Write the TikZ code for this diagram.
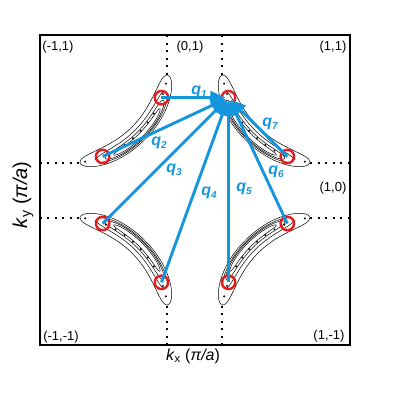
\documentclass[tikz,border=0pt]{standalone}
\usepackage{fontspec}
\setmainfont{Liberation Sans}
\usetikzlibrary{arrows.meta}
\definecolor{qblue}{RGB}{20,150,220}
\definecolor{cred}{RGB}{228,30,30}
% banana contour: #1 radius, #2 start angle, #3 end angle, #4 half span, #5 half width
\newcommand\bananacurve[5]{%
  \draw[line width=0.5pt] plot[domain=#2:#3, samples=70, smooth]
    ({-129.5+(#1+#5*sqrt(max(0,1-((\x-45)/#4)*((\x-45)/#4)*((\x-45)/#4)*((\x-45)/#4))))*cos(\x)},
     {-129.5+(#1+#5*sqrt(max(0,1-((\x-45)/#4)*((\x-45)/#4)*((\x-45)/#4)*((\x-45)/#4))))*sin(\x)})
    -- plot[domain=#3:#2, samples=70, smooth]
    ({-129.5+(#1-#5*sqrt(max(0,1-((\x-45)/#4)*((\x-45)/#4)*((\x-45)/#4)*((\x-45)/#4))))*cos(\x)},
     {-129.5+(#1-#5*sqrt(max(0,1-((\x-45)/#4)*((\x-45)/#4)*((\x-45)/#4)*((\x-45)/#4))))*sin(\x)}) -- cycle;}
\newcommand\bananaset{%
  \bananacurve{103}{8}{82}{37}{9}
  \bananacurve{104.5}{17}{73}{28}{6}
  \bananacurve{105.5}{22}{68}{23}{4}
  \bananacurve{106}{27}{63}{18}{2.2}
  \draw[bzline] (-155,-27.5) -- (-115.2,-27.5);
  \draw[bzline] (-27.5,-155) -- (-27.5,-115.2);
  \foreach \a in {13,19,...,79}
    \fill ({-129.5+103*cos(\a)},{-129.5+103*sin(\a)}) circle (1.1);
}
\newcommand\qlab[1]{\textbf{\textit{q}}\raisebox{-0.35ex}{\fontsize{10}{10}\selectfont\bfseries\itshape #1}}
\begin{document}
\begin{tikzpicture}[x=1pt,y=1pt,
  bzline/.style={line width=2pt, dash pattern=on 2pt off 5.5pt},
  pocket/.style={circle, draw=cred, line width=2.4pt, minimum size=13.5pt, inner sep=0pt},
  qarrow/.style={qblue, line width=2.9pt, -{Triangle[length=15pt,width=13pt]}, shorten >=3pt},
  qtext/.style={text=qblue, font=\fontsize{16}{16}\selectfont},
  corner/.style={font=\fontsize{13}{13}\selectfont}]
\useasboundingbox (-195,-210) rectangle (205,190);
% bananas in four quadrants
\begin{scope}\bananaset\end{scope}
\begin{scope}[yscale=-1]\bananaset\end{scope}
\begin{scope}[xscale=-1]\bananaset\end{scope}
\begin{scope}[xscale=-1,yscale=-1]\bananaset\end{scope}
% frame
\draw[line width=2pt] (-155,-155) rectangle (155,155);
% pockets (red circles)
\node[pocket] (tl1) at (-33.5,92.3) {};
\node[pocket] (tl2) at (-92.3,33.5) {};
\node[pocket] (bl1) at (-92.3,-33.5) {};
\node[pocket] (bl2) at (-33.5,-92.3) {};
\node[pocket] (br1) at (33.5,-92.3) {};
\node[pocket] (br2) at (92.3,-33.5) {};
\node[pocket] (tr2) at (92.3,33.5) {};
\node[pocket] (tr1) at (33.5,92.3) {};
% scattering vectors
\draw[qarrow] (tl1.center) -- (tr1.center);
\draw[qarrow] (tl2.center) -- (tr1.center);
\draw[qarrow] (bl1.center) -- (tr1.center);
\draw[qarrow] (bl2.center) -- (tr1.center);
\draw[qarrow] (br1.center) -- (tr1.center);
\draw[qarrow] (br2.center) -- (tr1.center);
\draw[qarrow] (tr2.center) -- (tr1.center);
% labels
\node[qtext] (l1) at (4,98) {\qlab{1}};
\node[qtext] (l2) at (-36,47) {\qlab{2}};
\node[qtext] (l3) at (-21,20) {\qlab{3}};
\node[qtext] (l4) at (14,-3) {\qlab{4}};
\node[qtext] (l5) at (49,1) {\qlab{5}};
\node[qtext] (l6) at (81,18) {\qlab{6}};
\node[qtext] (l7) at (75,66) {\qlab{7}};
% corner labels
\node[corner] (c1) at (-137,143) {(-1,1)};
\node[corner] (c2) at (-5,143) {(0,1)};
\node[corner] (c3) at (138,143) {(1,1)};
\node[corner] (c4) at (138,2) {(1,0)};
\node[corner] (c5) at (-134,-147) {(-1,-1)};
\node[corner] (c6) at (134,-146) {(1,-1)};
% axis labels
\node[font=\fontsize{16}{16}\selectfont] (kx) at (-2,-166) {\textit{k}\textsubscript{x} (\textit{π/a})};
\node[font=\fontsize{20}{20}\selectfont, rotate=90] (ky) at (-172,-5) {\textit{k}\textsubscript{y} (\textit{π/a})};
\end{tikzpicture}
\end{document}
